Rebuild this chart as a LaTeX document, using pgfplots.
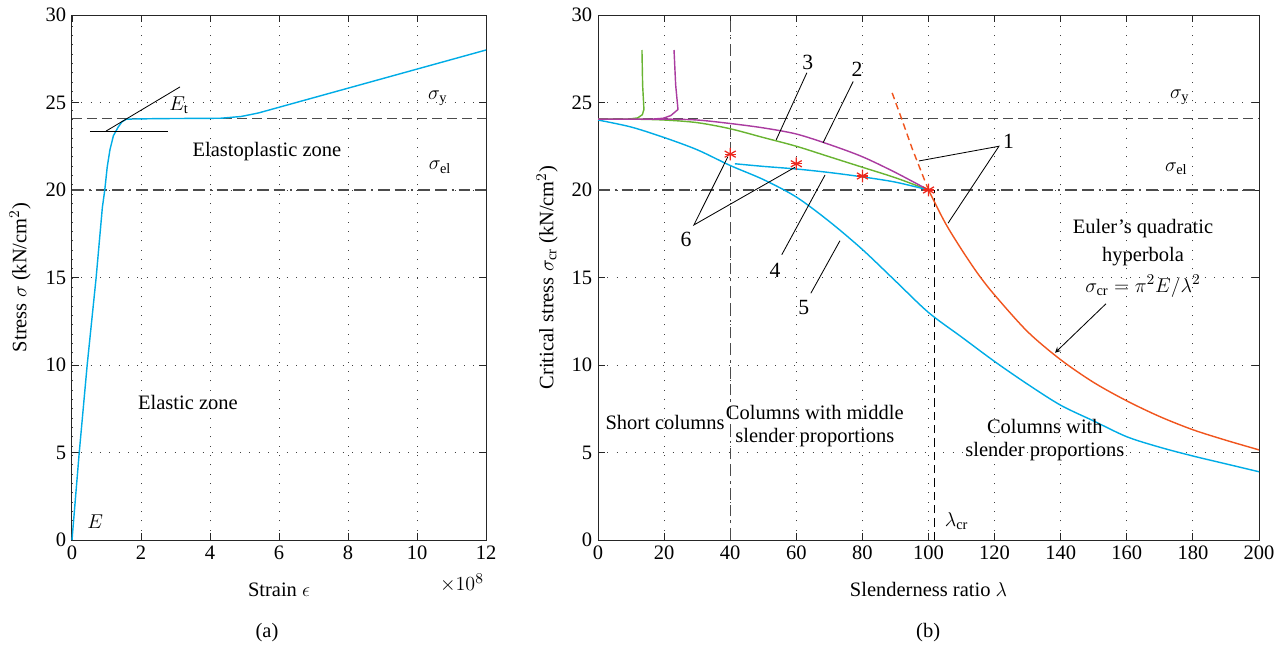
\documentclass[border=0pt]{standalone}
\usepackage{fontspec}
\setmainfont{Liberation Serif}
\usepackage{pgfplots}
\pgfplotsset{compat=1.18}
\definecolor{cy}{RGB}{0,172,230}
\definecolor{gr}{RGB}{105,180,50}
\definecolor{mg}{RGB}{170,60,160}
\definecolor{rd}{RGB}{240,85,30}
\definecolor{st}{RGB}{235,40,30}
\pgfplotsset{
  mystyle/.style={
    scale only axis, height=315pt, clip=false,
    xmajorgrids, ymajorgrids,
    grid style={black!75, line width=0.55pt, dash pattern=on 0.6pt off 5pt},
    axis line style={black!85, line width=0.6pt},
    tick style={black!85, line width=0.5pt},
    major tick length=4pt,
    tick label style={font=\fontsize{12.3}{14}\selectfont},
    label style={font=\fontsize{12.3}{14}\selectfont},
    /pgf/number format/assume math mode=true,
    ymin=0, ymax=30, ytick={0,5,...,30},
  },
}
\tikzset{
  dsh/.style={black!70, line width=0.65pt, dash pattern=on 6pt off 3pt},
  dshdot/.style={black!70, line width=0.65pt, dash pattern=on 7pt off 3pt on 1.2pt off 3pt on 7pt off 3pt},
  txt/.style={font=\fontsize{12.3}{14}\selectfont, inner sep=0pt},
  num/.style={font=\fontsize{13}{15}\selectfont, inner sep=0pt},
  ann/.style={black, line width=0.5pt},
}
\begin{document}
\begin{tikzpicture}
\path[use as bounding box] (-43.2pt,-64.8pt) rectangle (729.6pt,324pt);
% ---------------- (a) ----------------
\begin{axis}[mystyle, at={(0pt,0pt)}, anchor=south west, width=248.4pt,
  xmin=0, xmax=12, xtick={0,2,...,12},
  xlabel={Strain $\epsilon$},
  ylabel={Stress $\sigma$ (kN/cm$^2$)},
  x label style={at={(axis description cs:0.5,-0.095)}, anchor=center},
  y label style={at={(axis description cs:-0.1256,0.5)}, anchor=center},
]
\addplot[dsh] coordinates {(0,24.1) (12,24.1)};
\addplot[dshdot] coordinates {(0,20) (12,20)};
\addplot[cy, line width=0.85pt] coordinates {
(0,0) (0.21,5) (0.44,10) (0.70,15) (0.88,19) (0.95,20) (1.02,21.3) (1.1,22.3)
(1.2,23.1) (1.34,23.6) (1.45,23.9) (1.58,24.05) (2.5,24.08) (4.3,24.1)
(4.9,24.2) (5.4,24.4) (12,28)};
\addplot[ann] coordinates {(0.99,23.37) (3.13,25.89)};
\addplot[ann] coordinates {(0.52,23.37) (2.78,23.37)};
\node[txt] at (axis cs:3.1,24.85) {$E_{\mathrm{t}}$};
\node[txt] at (axis cs:10.6,25.25) {$\sigma_{\mathrm{y}}$};
\node[txt] at (axis cs:10.67,21.3) {$\sigma_{\mathrm{el}}$};
\node[txt] at (axis cs:5.65,22.17) {Elastoplastic zone};
\node[txt] at (axis cs:3.36,7.83) {Elastic zone};
\node[txt] at (axis cs:0.67,1.03) {$E$};
\node[txt] at (axis description cs:0.942,-0.082) {$\times10^8$};
\node[txt] at (axis description cs:0.471,-0.177) {(a)};
\end{axis}
% ---------------- (b) ----------------
\begin{axis}[mystyle, at={(315.6pt,0pt)}, anchor=south west, width=396.6pt,
  xmin=0, xmax=200, xtick={0,20,...,200},
  xlabel={Slenderness ratio $\lambda$},
  ylabel={Critical stress $\sigma_{\mathrm{cr}}$ (kN/cm$^2$)},
  x label style={at={(axis description cs:0.5,-0.095)}, anchor=center},
  y label style={at={(axis description cs:-0.077,0.5)}, anchor=center},
]
\addplot[dsh] coordinates {(0,24.1) (200,24.1)};
\addplot[dshdot] coordinates {(0,20) (200,20)};
\addplot[dshdot] coordinates {(40,0) (40,30)};
\addplot[black, line width=0.7pt, dash pattern=on 5pt off 3pt] coordinates {(101.7,0) (101.7,20)};
% curve 5
\addplot[cy, line width=0.85pt, smooth] coordinates {
(0,24.0) (10,23.6) (20,23.0) (30,22.3) (40,21.4) (50,20.6) (60,19.6) (70,18.2)
(80,16.6) (90,14.8) (100,13.0) (110,11.6) (120,10.2) (130,8.9) (140,7.7)
(150,6.8) (160,5.9) (170,5.3) (180,4.8) (190,4.35) (200,3.9)};
% curve 2 (green)
\addplot[gr, line width=0.85pt, smooth] coordinates {
(0,24.05) (10,24.05) (20,24.0) (30,23.85) (40,23.5) (50,23.0) (60,22.5) (70,21.9)
(80,21.3) (90,20.7) (100,20.0)};
\addplot[gr, line width=0.85pt] coordinates {
(13.3,28) (13.5,26) (13.9,24.6) (13.4,24.3) (12,24.12) (10,24.07)};
% curve 3 (magenta)
\addplot[mg, line width=0.85pt, smooth] coordinates {
(0,24.05) (20,24.05) (30,24.0) (40,23.8) (50,23.55) (60,23.2) (70,22.6)
(80,21.9) (90,21.0) (100,20.0)};
\addplot[mg, line width=0.85pt] coordinates {
(23.0,28) (23.5,26) (24.2,24.6) (22,24.25) (19.7,24.1) (17,24.06)};
% curve 4
\addplot[cy, line width=0.85pt, smooth] coordinates {
(41.4,21.5) (50,21.35) (60,21.2) (70,21.0) (80,20.75) (90,20.45) (100,20.0)};
% Euler
\addplot[rd, line width=0.85pt, smooth] coordinates {
(100,20) (105,18.14) (110,16.6) (115,15.2) (120,14.0) (130,11.9) (140,10.3)
(150,9.0) (160,7.95) (170,7.05) (180,6.3) (190,5.7) (200,5.15)};
\addplot[rd, line width=0.85pt, dash pattern=on 4pt off 2.5pt] coordinates {
(89,25.55) (92,24.0) (95,22.4) (98,20.95) (100,20.0)};
% stars
\addplot[only marks, st, mark=asterisk, mark size=3.8pt, line width=0.75pt] coordinates {
(40,22.05) (60,21.5) (80,20.8) (100,20.0)};
\addplot[only marks, st, mark=-, mark size=3.4pt, line width=0.75pt] coordinates {
(40,22.05) (60,21.5) (80,20.8) (100,20.0)};
% annotations
\addplot[ann] coordinates {(63.2,26.7) (53.9,22.86)};
\addplot[ann] coordinates {(77.2,26.2) (68.1,22.7)};
\addplot[ann] coordinates {(55.6,16.3) (68.7,20.86)};
\addplot[ann] coordinates {(64.4,14.1) (73.2,17.1)};
\addplot[ann] coordinates {(39.3,21.9) (29.0,18.0) (59.6,21.3)};
\addplot[ann] coordinates {(97.1,21.66) (121.3,22.5) (105.9,18.1)};
\addplot[ann, -stealth] coordinates {(153.7,13.5) (138.3,10.7)};
\node[num] at (axis cs:63.5,27.3) {3};
\node[num] at (axis cs:78.4,26.9) {2};
\node[num] at (axis cs:53.6,15.4) {4};
\node[num] at (axis cs:62.3,13.3) {5};
\node[num] at (axis cs:26.6,17.2) {6};
\node[num] at (axis cs:124.2,22.8) {1};
\node[txt] at (axis cs:176,25.3) {$\sigma_{\mathrm{y}}$};
\node[txt] at (axis cs:175,21.2) {$\sigma_{\mathrm{el}}$};
\node[txt] at (axis cs:164.9,17.8) {Euler's quadratic};
\node[txt] at (axis cs:164.9,16.2) {hyperbola};
\node[txt] at (axis cs:164.9,14.5) {$\sigma_{\mathrm{cr}} = \pi^2E/\lambda^2$};
\node[txt] at (axis cs:20.3,6.7) {Short columns};
\node[txt] at (axis cs:65.6,7.26) {Columns with middle};
\node[txt] at (axis cs:65.6,5.83) {slender proportions};
\node[txt] at (axis cs:135.2,6.46) {Columns with};
\node[txt] at (axis cs:135.2,5.03) {slender proportions};
\node[txt] at (axis cs:108.5,1.1) {$\lambda_{\mathrm{cr}}$};
\node[txt] at (axis description cs:0.4995,-0.177) {(b)};
\end{axis}
\end{tikzpicture}
\end{document}
